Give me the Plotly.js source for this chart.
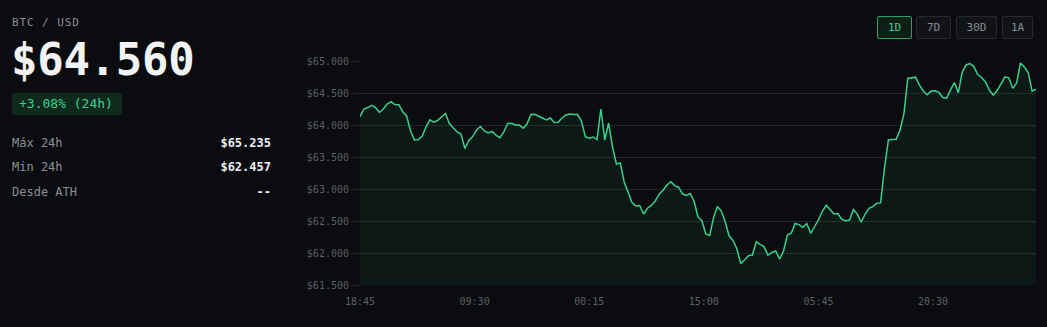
<!DOCTYPE html>
<html>
<head>
<meta charset="utf-8">
<script src="https://cdn.plot.ly/plotly-3.0.1.min.js"></script>
<style>
  html, body { margin:0; padding:0; background:#0b0c0f; width:1047px; height:327px; overflow:hidden; }
  body { position:relative; font-family:"DejaVu Sans Mono", "Liberation Mono", monospace; }
  .abs { position:absolute; white-space:nowrap; }
  #pair { left:12px; top:16px; font-size:11px; color:#8b8f95; letter-spacing:0.9px; line-height:14px; }
  #price { left:11px; top:38px; font-size:44px; font-weight:bold; color:#f1f2f4; line-height:44px; letter-spacing:-0.3px; }
  #badge { left:12px; top:93px; width:110px; height:22px; background:#0f2a1d; border-radius:2px; color:#3ecf8e; font-size:13px; line-height:22px; box-sizing:border-box; padding-left:7px; }
  .lbl { left:12px; font-size:12px; color:#8a8e94; line-height:14px; }
  .val { right:776px; font-size:12px; color:#eceef1; font-weight:bold; line-height:14px; text-align:right; }
  .btn { top:16px; height:23px; box-sizing:border-box; border:1px solid #26292e; background:#111317; color:#8a8e94; font-size:11px; line-height:21px; text-align:center; border-radius:2px; }
  .btn.on { border-color:#2f9e6a; background:#0d1f16; color:#3ecf8e; }
  #chart { position:absolute; left:0; top:0; width:1047px; height:327px; }
</style>
</head>
<body>
<div id="chart"></div>
<div class="abs" id="pair">BTC / USD</div>
<div class="abs" id="price">$64.560</div>
<div class="abs" id="badge">+3.08% (24h)</div>
<div class="abs lbl" style="top:136px">Máx 24h</div>
<div class="abs val" style="top:136px">$65.235</div>
<div class="abs lbl" style="top:160px">Min 24h</div>
<div class="abs val" style="top:160px">$62.457</div>
<div class="abs lbl" style="top:185px">Desde ATH</div>
<div class="abs val" style="top:185px">--</div>
<div class="abs btn on" style="left:877px;width:35px">1D</div>
<div class="abs btn" style="left:916px;width:35px">7D</div>
<div class="abs btn" style="left:956px;width:41px">30D</div>
<div class="abs btn" style="left:1002px;width:31px">1A</div>
<script>
// Price series (one value every 30 minutes)
const startTime = "2024-03-10 18:45";
const stepMinutes = 30;
const prices = [
  64130, 64250, 64273, 64308, 64273, 64198, 64250, 64328, 64364, 64320,
  64317, 64208, 64141, 63909, 63766, 63772, 63823, 63972, 64080, 64044,
  64073, 64133, 64180, 64022, 63958, 63891, 63859, 63633, 63758, 63819,
  63922, 63977, 63906, 63875, 63900, 63841, 63803, 63891, 64023, 64027,
  64000, 64000, 63950, 64019, 64163, 64167, 64136, 64106, 64081, 64109,
  64039, 64044, 64109, 64156, 64172, 64166, 64163, 64063, 63816, 63792,
  63813, 63773, 64250, 63766, 64031, 63656, 63391, 63406, 63109, 62953,
  62789, 62734, 62742, 62609, 62700, 62747, 62813, 62919, 62980, 63063,
  63114, 63053, 63028, 62925, 62898, 62930, 62805, 62563, 62505, 62297,
  62275, 62553, 62727, 62656, 62488, 62269, 62198, 62066, 61834, 61895,
  61959, 61969, 62178, 62136, 62100, 61966, 62011, 62031, 61908, 62028,
  62281, 62309, 62461, 62444, 62402, 62461, 62308, 62414, 62519, 62652,
  62745, 62680, 62611, 62617, 62527, 62506, 62516, 62680, 62608, 62481,
  62605, 62697, 62725, 62777, 62783, 63328, 63766, 63775, 63777, 63922,
  64172, 64727, 64742, 64747, 64622, 64531, 64473, 64530, 64534, 64509,
  64430, 64419, 64550, 64663, 64505, 64825, 64938, 64961, 64913, 64789,
  64742, 64672, 64544, 64469, 64538, 64645, 64753, 64736, 64573, 64656,
  64969, 64908, 64817, 64531, 64560
];
const tickLabels = ["18:45", "09:30", "00:15", "15:00", "05:45", "20:30"];
const tickStepMinutes = 885;
const yTicks = [61500, 62000, 62500, 63000, 63500, 64000, 64500, 65000];
const yTickText = ["$61.500", "$62.000", "$62.500", "$63.000", "$63.500", "$64.000", "$64.500", "$65.000"];

const t0 = new Date(startTime.replace(" ", "T") + ":00Z").getTime();
function fmt(ms) { return new Date(ms).toISOString().replace("T", " ").slice(0, 19); }
const times = prices.map((_, i) => fmt(t0 + i * stepMinutes * 60000));
const tickVals = tickLabels.map((_, k) => fmt(t0 + k * tickStepMinutes * 60000));

const trace = {
  x: times, y: prices, type: "scatter", mode: "lines",
  line: { color: "#3ad08a", width: 1.5, shape: "linear" },
  fill: "tozeroy", fillcolor: "rgba(52,211,138,0.065)",
  hoverinfo: "skip"
};
const layout = {
  width: 1047, height: 327,
  margin: { l: 360, r: 11, t: 61, b: 42, pad: 0 },
  paper_bgcolor: "rgba(0,0,0,0)", plot_bgcolor: "rgba(0,0,0,0)",
  showlegend: false,
  font: { family: "DejaVu Sans Mono, monospace", size: 10, color: "#5a5e64" },
  xaxis: {
    type: "date", range: [times[0], times[times.length - 1]],
    tickmode: "array", tickvals: tickVals, ticktext: tickLabels,
    showgrid: false, zeroline: false, showline: false,
    ticks: "outside", ticklen: 7, tickcolor: "rgba(0,0,0,0)",
    tickfont: { family: "DejaVu Sans Mono, monospace", size: 10, color: "#5c6066" },
    fixedrange: true
  },
  yaxis: {
    range: [61500, 65000], tickmode: "array", tickvals: yTicks, ticktext: yTickText,
    showgrid: true, gridcolor: "#222529", gridwidth: 1, zeroline: false, showline: false,
    ticks: "outside", ticklen: 8, tickcolor: "#222529",
    tickfont: { family: "DejaVu Sans Mono, monospace", size: 10, color: "#5a5e64" },
    fixedrange: true
  }
};
Plotly.newPlot("chart", [trace], layout, { displayModeBar: false, staticPlot: true });
</script>
</body>
</html>
